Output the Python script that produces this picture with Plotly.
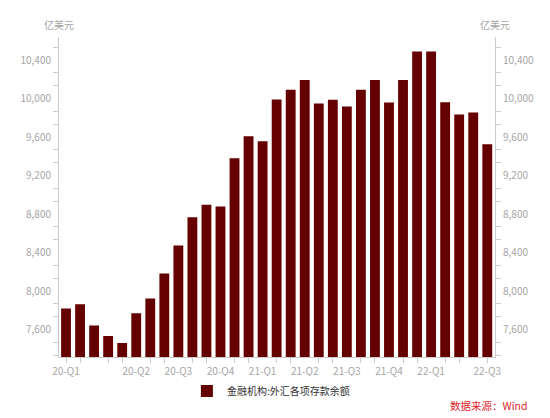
import plotly.graph_objs as go

# monthly balances, 2020-01 .. 2022-07 (亿美元)
months = [
    "2020-01", "2020-02", "2020-03", "2020-04", "2020-05", "2020-06",
    "2020-07", "2020-08", "2020-09", "2020-10", "2020-11", "2020-12",
    "2021-01", "2021-02", "2021-03", "2021-04", "2021-05", "2021-06",
    "2021-07", "2021-08", "2021-09", "2021-10", "2021-11", "2021-12",
    "2022-01", "2022-02", "2022-03", "2022-04", "2022-05", "2022-06",
    "2022-07",
]
deposits = [
    7818, 7863, 7642, 7533, 7461, 7770,
    7923, 8183, 8474, 8766, 8897, 8880,
    9380, 9609, 9557, 9990, 10091, 10192,
    9948, 9987, 9917, 10091, 10192, 9959,
    10192, 10490, 10490, 9963, 9834, 9855,
    9526,
]
quarter_labels = [
    "20-Q1", "", "", "", "", "20-Q2",
    "", "", "20-Q3", "", "", "20-Q4",
    "", "", "21-Q1", "", "", "21-Q2",
    "", "", "21-Q3", "", "", "21-Q4",
    "", "", "22-Q1", "", "", "",
    "22-Q3",
]
y_ticks = [7600, 8000, 8400, 8800, 9200, 9600, 10000, 10400]
y_tick_text = ["7,600", "8,000", "8,400", "8,800", "9,200", "9,600", "10,000", "10,400"]

series_name = "金融机构:外汇各项存款余额"
bar_color = "#650000"
axis_color = "#cccccc"
label_color = "#a6a6a6"
font_family = "Noto Sans CJK SC, Noto Sans, sans-serif"

idx = list(range(len(months)))
x_tickvals = [i for i in idx if quarter_labels[i]]
x_ticktext = [quarter_labels[i] for i in x_tickvals]
x_minor = [i for i in idx if i % 3 != 2]

y_range = [7315, 10640]
y_minor = []
v = 7200
while v < y_range[1]:
    if v >= y_range[0] and round(v) % 400 != 0:
        y_minor.append(v)
    v += 400 / 3

fig = go.Figure()
fig.add_trace(go.Bar(
    x=idx, y=deposits, name=series_name,
    marker=dict(color=bar_color, line=dict(width=0)),
    width=0.7,
    customdata=months,
    hovertemplate="%{customdata}: %{y:,}<extra></extra>",
))
# invisible trace so the right axis gets drawn
fig.add_trace(go.Scatter(x=idx, y=deposits, yaxis="y2", mode="none",
                         showlegend=False, hoverinfo="skip"))

yaxis_common = dict(
    range=y_range,
    tickvals=y_ticks, ticktext=y_tick_text,
    ticks="outside", ticklen=5, tickcolor="rgba(0,0,0,0)",
    showline=True, linecolor=axis_color, linewidth=1,
    showgrid=False, zeroline=False,
    tickfont=dict(size=10, color=label_color),
    minor=dict(tickmode="array", tickvals=y_minor, ticks="outside",
               ticklen=5, tickcolor=axis_color, showgrid=False),
)

# the page body adds an 8px margin, so the figure is 8px smaller on top/left
fig.update_layout(
    width=542, height=410,
    margin=dict(l=47, r=55, t=29, b=61),
    paper_bgcolor="white", plot_bgcolor="white",
    font=dict(family=font_family, size=10, color=label_color),
    bargap=0.3,
    xaxis=dict(
        range=[-0.5, 30.55],
        tickmode="array", tickvals=x_tickvals, ticktext=x_ticktext,
        ticks="outside", ticklen=5, tickcolor="rgba(0,0,0,0)",
        showline=True, linecolor=axis_color, linewidth=1,
        showgrid=False, zeroline=False,
        tickfont=dict(size=10, color=label_color),
        minor=dict(tickmode="array", tickvals=x_minor, ticks="outside",
                   ticklen=5, tickcolor=axis_color, showgrid=False),
    ),
    yaxis=dict(side="left", **yaxis_common),
    yaxis2=dict(side="right", overlaying="y", **yaxis_common),
    showlegend=True,
    legend=dict(
        orientation="h", x=0.486, xanchor="center", y=-0.106, yanchor="middle",
        font=dict(size=10, color="#333333"),
        itemwidth=30,
    ),
    annotations=[
        dict(text="亿美元", xref="paper", yref="paper", x=0, y=1.0375,
             xanchor="center", yanchor="middle", showarrow=False,
             font=dict(size=10, color=label_color)),
        dict(text="亿美元", xref="paper", yref="paper", x=1, y=1.0375,
             xanchor="center", yanchor="middle", showarrow=False,
             font=dict(size=10, color=label_color)),
        dict(text="数据来源：Wind", xref="paper", yref="paper", x=1.08, y=-0.15,
             xanchor="right", yanchor="middle", showarrow=False,
             font=dict(size=10.5, color="#e0262b")),
    ],
)

fig.write_html("out.html")
